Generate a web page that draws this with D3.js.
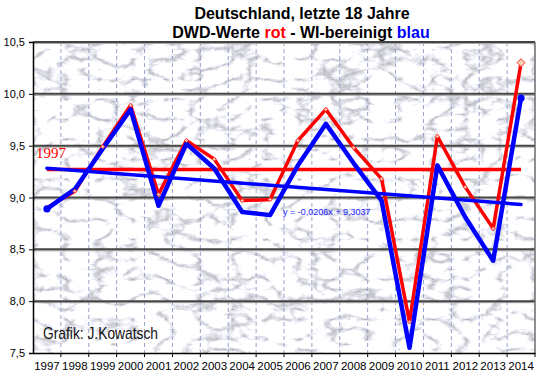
<!DOCTYPE html>
<meta charset="utf-8">
<script src="https://d3js.org/d3.v7.min.js"></script>
<style>
  body { margin: 0; background: #fff; }
  text { font-family: "Liberation Sans", Arial, sans-serif; }
</style>
<div id="chart"></div>
<script>

// years on the x axis
var years = ["1997", "1998", "1999", "2000", "2001", "2002", "2003", "2004", "2005",
             "2006", "2007", "2008", "2009", "2010", "2011", "2012", "2013", "2014"];

// DWD annual means (red)
var dwdValues = [8.90, 9.06, 9.49, 9.89, 9.03, 9.55, 9.37, 8.97, 8.98,
                 9.55, 9.85, 9.48, 9.18, 7.80, 9.59, 9.10, 8.70, 10.30];

// WI-corrected values (blue)
var wiValues = [8.89, 9.08, 9.47, 9.85, 8.92, 9.52, 9.28, 8.86, 8.83,
                9.31, 9.71, 9.33, 8.97, 7.55, 9.31, 8.81, 8.39, 9.96];

// trend lines
var dwdTrend = [9.27, 9.27];
var wiTrendSlope = -0.0206, wiTrendIntercept = 9.3037;
var wiTrendLabel = "y = -0,0206x + 9,3037";

var yTicks = [7.5, 8.0, 8.5, 9.0, 9.5, 10.0, 10.5];

var W = 540, H = 389;
var margin = {top: 42, right: 5, bottom: 36, left: 33};
var x0 = margin.left, x1 = W - margin.right, y0 = H - margin.bottom, y1 = margin.top;

var svg = d3.select("#chart").append("svg")
  .attr("width", W).attr("height", H);

// marble-ish texture for the plot background
var defs = svg.append("defs");
var filt = defs.append("filter").attr("id", "marble")
  .attr("x", 0).attr("y", 0).attr("width", "100%").attr("height", "100%")
  .attr("color-interpolation-filters", "sRGB");
filt.append("feTurbulence").attr("type", "turbulence")
  .attr("baseFrequency", "0.03 0.05").attr("numOctaves", 4).attr("seed", 11).attr("result", "t");
filt.append("feColorMatrix").attr("in", "t").attr("type", "matrix")
  .attr("values", "1.1 0 0 0 0.7  1.1 0 0 0 0.7  1.1 0 0 0 0.73  0 0 0 0 1");

var x = d3.scaleBand().domain(years).range([x0, x1]);
var y = d3.scaleLinear().domain([7.5, 10.5]).range([y0, y1]);
var cx = function(d, i) { return x(years[i]) + x.bandwidth() / 2; };

svg.append("rect")
  .attr("x", x0).attr("y", y1).attr("width", x1 - x0).attr("height", y0 - y1)
  .attr("fill", "#ddd").attr("filter", "url(#marble)");

// vertical dashed grid
svg.append("g").selectAll("line")
  .data(years.slice(1))
  .join("line")
    .attr("x1", d => x(d)).attr("x2", d => x(d))
    .attr("y1", y1).attr("y2", y0)
    .attr("stroke", "#98a2c8").attr("stroke-dasharray", "4,3");

// horizontal grid
var hg = svg.append("g");
hg.selectAll("line.sh")
  .data(yTicks.slice(1))
  .join("line").attr("class", "sh")
    .attr("x1", x0).attr("x2", x1)
    .attr("y1", d => y(d) + 1.5).attr("y2", d => y(d) + 1.5)
    .attr("stroke", "#a8a8a8").attr("stroke-width", 1);
hg.selectAll("line.gl")
  .data(yTicks.slice(1))
  .join("line").attr("class", "gl")
    .attr("x1", x0).attr("x2", x1)
    .attr("y1", d => y(d)).attr("y2", d => y(d))
    .attr("stroke", "#444").attr("stroke-width", 2);

// right border
svg.append("line")
  .attr("x1", x1).attr("x2", x1).attr("y1", y1).attr("y2", y0)
  .attr("stroke", "#6a6a6a").attr("stroke-width", 1.5);

var line = d3.line()
  .x(cx)
  .y(d => y(d));

// red series
svg.append("path")
  .datum(dwdValues)
  .attr("d", line)
  .attr("fill", "none").attr("stroke", "#ff0000").attr("stroke-width", 3.5)
  .attr("stroke-linejoin", "round");

// red trend
svg.append("line")
  .attr("x1", cx(0, 0)).attr("x2", cx(0, years.length - 1))
  .attr("y1", y(dwdTrend[0])).attr("y2", y(dwdTrend[1]))
  .attr("stroke", "#ff0000").attr("stroke-width", 3.5);

// blue series
svg.append("path")
  .datum(wiValues)
  .attr("d", line)
  .attr("fill", "none").attr("stroke", "#0000ff").attr("stroke-width", 4.5)
  .attr("stroke-linejoin", "round").attr("stroke-linecap", "round");

// blue trend
svg.append("line")
  .attr("x1", cx(0, 0)).attr("x2", cx(0, years.length - 1))
  .attr("y1", y(wiTrendIntercept + wiTrendSlope * 1))
  .attr("y2", y(wiTrendIntercept + wiTrendSlope * years.length))
  .attr("stroke", "#0000ff").attr("stroke-width", 3.5)
  .attr("stroke-linecap", "round");

// red markers
svg.append("g").selectAll("path")
  .data(dwdValues)
  .join("path")
    .attr("transform", (d, i) => "translate(" + cx(d, i) + "," + y(d) + ")")
    .attr("d", (d, i) => {
      var r = i === dwdValues.length - 1 ? 4 : 2;
      return "M0," + (-r) + "L" + r + ",0L0," + r + "L" + (-r) + ",0Z";
    })
    .attr("fill", "#f4d2b8").attr("stroke", "#ff3030").attr("stroke-width", 1);

// blue end dots
svg.append("g").selectAll("circle")
  .data([0, wiValues.length - 1])
  .join("circle")
    .attr("cx", i => cx(0, i)).attr("cy", i => y(wiValues[i]))
    .attr("r", 3.6).attr("fill", "#0000ff");

// y axis
var yAxis = svg.append("g")
  .attr("transform", "translate(" + x0 + ",0)")
  .call(d3.axisLeft(y).tickValues(yTicks).tickSize(4).tickPadding(4)
    .tickFormat(d => d3.format(".1f")(d).replace(".", ",")));
yAxis.select(".domain").attr("stroke", "#000").attr("stroke-width", 1.5);
yAxis.selectAll("text").attr("font-size", 11).attr("fill", "#000")
  .attr("font-family", "'Liberation Sans', Arial, sans-serif");

// x axis
var xAxis = svg.append("g")
  .attr("transform", "translate(0," + y0 + ")")
  .call(d3.axisBottom(x).tickSize(0).tickPadding(9).tickSizeOuter(0));
xAxis.select(".domain").attr("stroke", "#000").attr("stroke-width", 1.5);
xAxis.selectAll("text").attr("font-size", 11.5).attr("fill", "#000")
  .attr("font-family", "'Liberation Sans', Arial, sans-serif");
xAxis.selectAll("line.bt")
  .data(years.slice(1).map(d => x(d)).concat([x1]))
  .join("line").attr("class", "bt")
    .attr("x1", d => d).attr("x2", d => d).attr("y1", 0).attr("y2", 4)
    .attr("stroke", "#000").attr("stroke-width", 1);

// labels inside the plot
svg.append("text")
  .attr("x", 36).attr("y", 158)
  .attr("fill", "#ff0000")
  .style("font-family", "'Liberation Serif', 'Times New Roman', serif")
  .style("font-size", "15px")
  .text(years[0]);

svg.append("text")
  .attr("x", 283).attr("y", 215)
  .attr("fill", "#1a1aff")
  .style("font-size", "9px")
  .text(wiTrendLabel);

svg.append("text")
  .attr("x", 43).attr("y", 339)
  .attr("fill", "#111")
  .attr("textLength", 115).attr("lengthAdjust", "spacingAndGlyphs")
  .style("font-family", "'Liberation Sans Narrow', 'Arial Narrow', 'Liberation Sans', sans-serif")
  .style("font-size", "17px")
  .text("Grafik: J.Kowatsch");

// title
var title = svg.append("g")
  .attr("text-anchor", "middle")
  .style("font-size", "16px").style("font-weight", "bold");
title.append("text").attr("x", 302).attr("y", 19)
  .text("Deutschland, letzte 18 Jahre");
var t2 = title.append("text").attr("x", 301).attr("y", 37.5);
t2.append("tspan").text("DWD-Werte ");
t2.append("tspan").attr("fill", "#ff0000").text("rot");
t2.append("tspan").text(" - WI-bereinigt ");
t2.append("tspan").attr("fill", "#0000ff").text("blau");

</script>
